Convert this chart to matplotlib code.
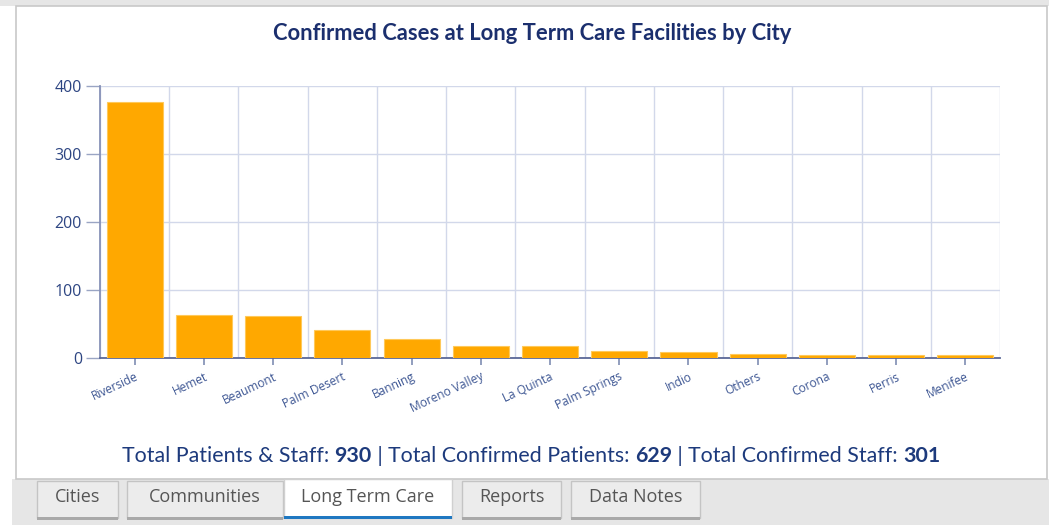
import matplotlib
matplotlib.use('Agg')
import matplotlib.pyplot as plt
from matplotlib.patches import Rectangle
import numpy as np

# data
cities = ['Riverside', 'Hemet', 'Beaumont', 'Palm Desert', 'Banning', 'Moreno Valley',
          'La Quinta', 'Palm Springs', 'Indio', 'Others', 'Corona', 'Perris', 'Menifee']
cases = [376, 63, 61, 41, 27, 17, 17, 10, 8, 5, 3, 3, 3]
y_ticks = [0, 100, 200, 300, 400]
summary_parts = [('Total Patients & Staff: ', 'normal'), ('930', 'bold'), (' | ', 'normal'),
                 ('Total Confirmed Patients: ', 'normal'), ('629', 'bold'), (' | ', 'normal'),
                 ('Total Confirmed Staff: ', 'normal'), ('301', 'bold')]
tabs = ['Cities', 'Communities', 'Long Term Care', 'Reports', 'Data Notes']
active_tab = 'Long Term Care'

W, H = 1049, 525
fig = plt.figure(figsize=(W / 100, H / 100), dpi=100, facecolor='white')


def px(x, y):
    # pixel coords (top-left origin) -> figure fraction
    return x / W, 1 - y / H


def rect(x0, y0, x1, y1, z=-5, **kw):
    fx, fy = px(x0, y1)
    fig.patches.append(Rectangle((fx, fy), (x1 - x0) / W, (y1 - y0) / H,
                                 transform=fig.transFigure, zorder=z, **kw))


# page background / panel frame
rect(0, 0, W, 6, facecolor='#e6e6e6', edgecolor='none')
rect(12, 479, W, H, facecolor='#e6e6e6', edgecolor='none')
rect(16, 6, 1047, 479, facecolor='white', edgecolor='#c8c8c8', linewidth=1.2)

# chart
ax = fig.add_axes([100 / W, (H - 357.5) / H, 900 / W, (357.5 - 86) / H])
ax.set_zorder(2)
x = np.arange(len(cities))
ax.bar(x, cases, width=0.81, color='#ffa800', edgecolor='#ffc95a', linewidth=0.8, zorder=3)
ax.set_xlim(-0.5, len(cities) - 0.5)
ax.set_ylim(0, 400)
ax.set_yticks(y_ticks)
ax.set_yticklabels([str(v) for v in y_ticks], fontsize=11.5, color='#2d4582',
                   family='Open Sans')
ax.set_xticks(x)
ax.set_xticks(np.arange(len(cities) + 1) - 0.5, minor=True)
ax.set_xticklabels(cities, rotation=25, ha='right', rotation_mode='anchor',
                   fontsize=8.6, color='#3d5693', family='Open Sans')
ax.tick_params(axis='x', which='major', length=5, width=1.2, color='#7f8db3', pad=4)
ax.tick_params(axis='x', which='minor', length=0)
ax.tick_params(axis='y', length=10, width=1, color='#9aa5c4', pad=3)
ax.grid(True, axis='y', color='#d2d8ea', linewidth=1, zorder=0)
ax.grid(True, axis='x', which='minor', color='#d2d8ea', linewidth=1, zorder=0)
for s in ['top', 'right']:
    ax.spines[s].set_visible(False)
ax.spines['left'].set_color('#8792b8')
ax.spines['left'].set_linewidth(1.3)
ax.spines['bottom'].set_color('#5a6897')
ax.spines['bottom'].set_linewidth(1.3)
ax.set_facecolor('white')

# title
fig.text(*px(532, 33), 'Confirmed Cases at Long Term Care Facilities by City',
         ha='center', va='center', fontsize=15.8, fontweight='bold', color='#1b2f6e',
         family='Lato')

# summary line with bold numbers
renderer = fig.canvas.get_renderer()
pieces = []
total_w = 0
for txt, wt in summary_parts:
    t = fig.text(0, 0, txt, fontsize=15.4, fontweight=wt, color='#1d3a7c', family='Lato',
                 va='center', ha='left')
    w = t.get_window_extent(renderer).width
    pieces.append((t, w))
    total_w += w
cur = 531 - total_w / 2
for t, w in pieces:
    t.set_position(px(cur, 456))
    cur += w

# tabs
tab_x = [(37, 118), (127, 283), (284, 452), (462, 561), (571, 700)]
for name, (x0, x1) in zip(tabs, tab_x):
    if name == active_tab:
        rect(x0, 479, x1, 518, z=-4, facecolor='white', edgecolor='#d0d0d0', linewidth=1)
        rect(x0, 516, x1, 519, z=-3, facecolor='#1f78c1', edgecolor='none')
    else:
        rect(x0, 481, x1, 518, z=-4, facecolor='#ececec', edgecolor='#c4c4c4', linewidth=1)
        rect(x0, 517, x1, 520, z=-3, facecolor='#a9a9a9', edgecolor='none')
    fig.text(*px((x0 + x1) / 2, 497), name, ha='center', va='center', fontsize=13,
             color='#555555', family='Open Sans')

fig.savefig('out.png', dpi=100, facecolor=fig.get_facecolor())
